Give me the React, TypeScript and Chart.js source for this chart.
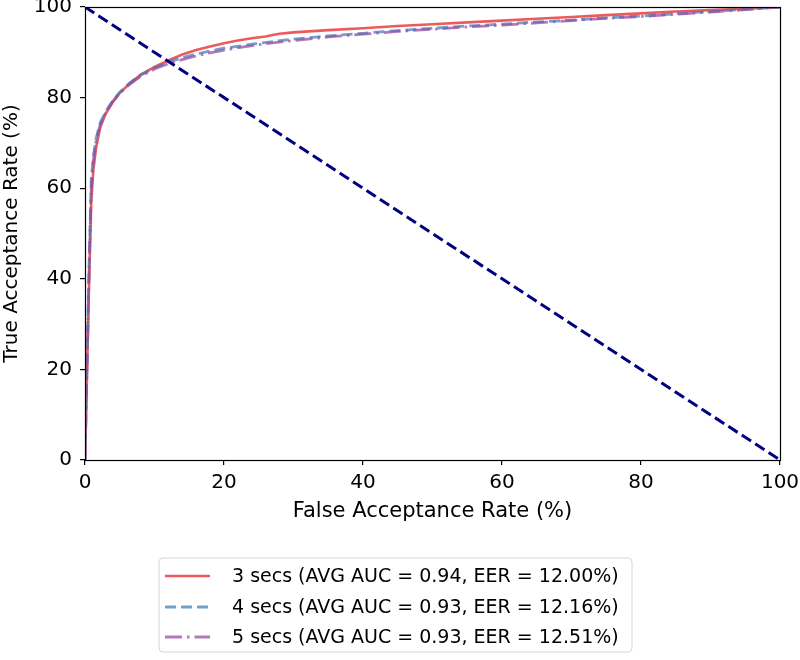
import React, { useEffect, useRef } from "react";
import { Chart, registerables } from "chart.js";

Chart.register(...registerables);

// ---- Data ----
const xTicks = [0, 20, 40, 60, 80, 100];
const yTicks = [0, 20, 40, 60, 80, 100];

const seriesLabels = [
  "3 secs (AVG AUC = 0.94, EER = 12.00%)",
  "4 secs (AVG AUC = 0.93, EER = 12.16%)",
  "5 secs (AVG AUC = 0.93, EER = 12.51%)",
];

const far3 = [0, 0.3, 0.6, 0.9, 1.2, 1.6, 2.2, 3, 4, 5, 6.5, 8, 10, 12, 14, 16, 18, 20, 22, 24, 26, 27, 28, 30, 35, 40, 45, 50, 55, 60, 65, 70, 75, 80, 85, 90, 95, 100];
const tar3 = [0, 20, 40, 57, 64, 69, 73.5, 76.5, 79, 81, 83.2, 85, 86.8, 88.2, 89.5, 90.5, 91.3, 92, 92.6, 93.1, 93.5, 93.8, 94.1, 94.4, 94.9, 95.3, 95.8, 96.2, 96.6, 97, 97.4, 97.8, 98.2, 98.6, 99, 99.3, 99.6, 100];

const far4 = [0, 0.3, 0.6, 0.9, 1.2, 1.6, 2.2, 3, 4, 5, 6.5, 8, 10, 12, 14, 16, 18, 20, 25, 30, 35, 40, 45, 50, 55, 60, 65, 70, 75, 80, 85, 90, 95, 100];
const tar4 = [0, 22, 44, 62, 67, 71, 74.5, 77, 79.3, 81.2, 83.3, 85, 86.6, 87.8, 88.8, 89.6, 90.3, 90.9, 92, 92.9, 93.6, 94.2, 94.8, 95.3, 95.8, 96.2, 96.7, 97.1, 97.6, 98, 98.5, 99, 99.5, 100];

const far5 = [0, 0.3, 0.6, 0.9, 1.2, 1.6, 2.2, 3, 4, 5, 6.5, 8, 10, 12, 14, 16, 18, 20, 25, 30, 35, 40, 45, 50, 55, 60, 65, 70, 75, 80, 85, 90, 95, 100];
const tar5 = [0, 21, 42, 60, 66, 70.5, 74, 76.8, 79.2, 81, 83, 84.7, 86.3, 87.5, 88.4, 89.2, 89.9, 90.5, 91.7, 92.6, 93.4, 94, 94.6, 95.1, 95.6, 96, 96.5, 97, 97.5, 97.9, 98.4, 98.9, 99.4, 100];

const diagFar = [0, 100];
const diagTar = [100, 0];

const FONT = "'DejaVu Sans', sans-serif";

function toPoints(xs: number[], ys: number[]) {
  return xs.map((x, i) => ({ x, y: ys[i] }));
}

const framePlugin = {
  id: "frame",
  afterDatasetsDraw(chart: any) {
    const { ctx, chartArea } = chart;
    ctx.save();
    ctx.strokeStyle = "#000";
    ctx.lineWidth = 1.2;
    ctx.strokeRect(
      Math.round(chartArea.left) + 0.5,
      Math.round(chartArea.top) + 0.5,
      Math.round(chartArea.right - chartArea.left),
      Math.round(chartArea.bottom - chartArea.top)
    );
    ctx.restore();
  },
};

const legendPlugin = {
  id: "boxLegend",
  afterDraw(chart: any) {
    const { ctx } = chart;
    const ds = chart.data.datasets.filter((d: any) => d.inLegend);
    const order = [...ds].sort((a: any, b: any) => a.legendIndex - b.legendIndex);
    const bx = 159, by = 558, bw = 473, bh = 94, r = 4;
    ctx.save();
    ctx.beginPath();
    ctx.moveTo(bx + r, by);
    ctx.lineTo(bx + bw - r, by);
    ctx.quadraticCurveTo(bx + bw, by, bx + bw, by + r);
    ctx.lineTo(bx + bw, by + bh - r);
    ctx.quadraticCurveTo(bx + bw, by + bh, bx + bw - r, by + bh);
    ctx.lineTo(bx + r, by + bh);
    ctx.quadraticCurveTo(bx, by + bh, bx, by + bh - r);
    ctx.lineTo(bx, by + r);
    ctx.quadraticCurveTo(bx, by, bx + r, by);
    ctx.closePath();
    ctx.fillStyle = "rgba(255,255,255,0.8)";
    ctx.fill();
    ctx.strokeStyle = "#d6d6d6";
    ctx.lineWidth = 1;
    ctx.stroke();
    const rowY = [576, 607, 637];
    order.forEach((d: any, i: number) => {
      const y = rowY[i];
      ctx.beginPath();
      ctx.strokeStyle = d.borderColor;
      ctx.lineWidth = d.borderWidth;
      ctx.setLineDash(d.borderDash || []);
      ctx.moveTo(165, y);
      ctx.lineTo(210, y);
      ctx.stroke();
      ctx.setLineDash([]);
      ctx.fillStyle = "#000";
      ctx.font = `19px ${FONT}`;
      ctx.textBaseline = "middle";
      ctx.textAlign = "left";
      ctx.fillText(d.label, 232, y + 1);
    });
    ctx.restore();
  },
};

export default function App() {
  const ref = useRef<HTMLCanvasElement | null>(null);
  useEffect(() => {
    if (!ref.current) return;
    const chart = new Chart(ref.current, {
      type: "line",
      data: {
        datasets: [
          {
            label: "diag",
            data: toPoints(diagFar, diagTar),
            borderColor: "#000080",
            borderWidth: 3,
            borderDash: [11, 5],
            pointRadius: 0,
            fill: false,
            tension: 0,
          },
          {
            label: seriesLabels[2],
            data: toPoints(far5, tar5),
            borderColor: "rgba(152,78,163,0.75)",
            borderWidth: 2.8,
            borderDash: [17, 5, 2.5, 5],
            pointRadius: 0,
            fill: false,
            tension: 0,
            inLegend: true,
            legendIndex: 2,
          } as any,
          {
            label: seriesLabels[1],
            data: toPoints(far4, tar4),
            borderColor: "rgba(55,126,184,0.72)",
            borderWidth: 2.8,
            borderDash: [11, 5],
            pointRadius: 0,
            fill: false,
            tension: 0,
            inLegend: true,
            legendIndex: 1,
          } as any,
          {
            label: seriesLabels[0],
            data: toPoints(far3, tar3),
            borderColor: "rgba(228,26,28,0.72)",
            borderWidth: 2.6,
            pointRadius: 0,
            fill: false,
            tension: 0,
            inLegend: true,
            legendIndex: 0,
          } as any,
        ],
      },
      options: {
        animation: false,
        responsive: false,
        layout: { padding: { left: 0, right: 20, top: 7, bottom: 136 } },
        plugins: {
          legend: { display: false },
          tooltip: { enabled: false },
        },
        scales: {
          x: {
            type: "linear",
            min: 0,
            max: 100,
            afterBuildTicks: (scale: any) => {
              scale.ticks = xTicks.map((v) => ({ value: v }));
            },
            afterFit: (scale: any) => {
              scale.height = 64;
              scale.paddingLeft = 0;
              scale.paddingRight = 0;
            },
            border: { display: false },
            grid: {
              drawOnChartArea: false,
              drawTicks: true,
              tickLength: 5,
              color: "#000",
              lineWidth: 1.2,
            },
            ticks: {
              color: "#000",
              font: { family: FONT, size: 20 },
              padding: 6,
              maxRotation: 0,
              autoSkip: false,
            },
            title: {
              display: true,
              text: "False Acceptance Rate (%)",
              color: "#000",
              font: { family: FONT, size: 21 },
              padding: { top: 0, bottom: 0 },
            },
          },
          y: {
            type: "linear",
            min: 0,
            max: 100,
            afterBuildTicks: (scale: any) => {
              scale.ticks = yTicks.map((v) => ({ value: v }));
            },
            afterFit: (scale: any) => {
              scale.width = 85;
              scale.paddingTop = 0;
              scale.paddingBottom = 0;
            },
            border: { display: false },
            grid: {
              drawOnChartArea: false,
              drawTicks: true,
              tickLength: 5,
              color: "#000",
              lineWidth: 1.2,
            },
            ticks: {
              color: "#000",
              font: { family: FONT, size: 20 },
              padding: 8,
              autoSkip: false,
            },
            title: {
              display: true,
              text: "True Acceptance Rate (%)",
              color: "#000",
              font: { family: FONT, size: 20 },
              padding: { top: 0, bottom: 4 },
            },
          },
        },
      },
      plugins: [framePlugin, legendPlugin],
    } as any);
    return () => chart.destroy();
  }, []);
  return (
    <div style={{ position: "absolute", left: 0, top: 0, width: 800, height: 660, background: "#fff" }}>
      <canvas ref={ref} width={800} height={660} style={{ display: "block" }} />
    </div>
  );
}
